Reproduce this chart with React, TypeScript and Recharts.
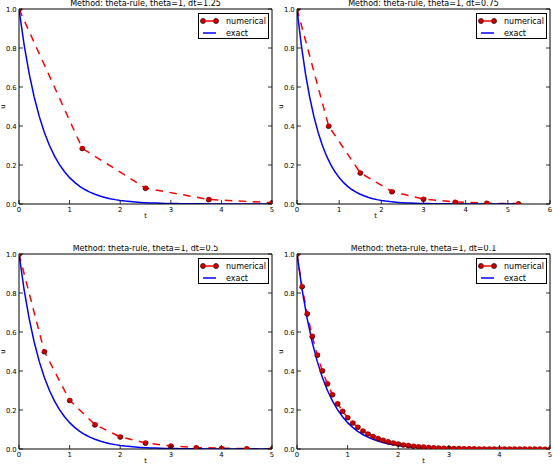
import React from 'react';
import { LineChart, Line, XAxis, YAxis, Legend, Label } from 'recharts';

// exact solution samples (t, u)
const exactT = [
  0, 0.1, 0.2, 0.3, 0.4, 0.5, 0.6, 0.7, 0.8, 0.9, 1.0, 1.1, 1.2, 1.3, 1.4, 1.5, 1.6, 1.7, 1.8, 1.9,
  2.0, 2.1, 2.2, 2.3, 2.4, 2.5, 2.6, 2.7, 2.8, 2.9, 3.0, 3.1, 3.2, 3.3, 3.4, 3.5, 3.6, 3.7, 3.8, 3.9,
  4.0, 4.1, 4.2, 4.3, 4.4, 4.5, 4.6, 4.7, 4.8, 4.9, 5.0,
];
const exactU = [
  1, 0.8187, 0.6703, 0.5488, 0.4493, 0.3679, 0.3012, 0.2466, 0.2019, 0.1653, 0.1353, 0.1108, 0.0907,
  0.0743, 0.0608, 0.0498, 0.0408, 0.0334, 0.0273, 0.0224, 0.0183, 0.015, 0.0123, 0.0101, 0.0082,
  0.0067, 0.0055, 0.0045, 0.0037, 0.003, 0.0025, 0.002, 0.0017, 0.0014, 0.0011, 0.0009, 0.0007,
  0.0006, 0.0005, 0.0004, 0.0003, 0.0003, 0.0002, 0.0002, 0.0002, 0.0001, 0.0001, 0.0001, 0.0001,
  0.0001, 0.0,
];
const exactTailT = [5.25];
const exactTailU = [0.0];

// numerical solutions
const numT125 = [0, 1.25, 2.5, 3.75, 5.0];
const numU125 = [1, 0.2857, 0.0816, 0.0233, 0.0067];

const numT075 = [0, 0.75, 1.5, 2.25, 3.0, 3.75, 4.5, 5.25];
const numU075 = [1, 0.4, 0.16, 0.064, 0.0256, 0.0102, 0.0041, 0.0016];

const numT05 = [0, 0.5, 1.0, 1.5, 2.0, 2.5, 3.0, 3.5, 4.0, 4.5, 5.0];
const numU05 = [1, 0.5, 0.25, 0.125, 0.0625, 0.0313, 0.0156, 0.0078, 0.0039, 0.002, 0.001];

const numT01 = [
  0, 0.1, 0.2, 0.3, 0.4, 0.5, 0.6, 0.7, 0.8, 0.9, 1.0, 1.1, 1.2, 1.3, 1.4, 1.5, 1.6, 1.7, 1.8, 1.9,
  2.0, 2.1, 2.2, 2.3, 2.4, 2.5, 2.6, 2.7, 2.8, 2.9, 3.0, 3.1, 3.2, 3.3, 3.4, 3.5, 3.6, 3.7, 3.8, 3.9,
  4.0, 4.1, 4.2, 4.3, 4.4, 4.5, 4.6, 4.7, 4.8, 4.9, 5.0,
];
const numU01 = [
  1, 0.8333, 0.6944, 0.5787, 0.4823, 0.4019, 0.3349, 0.2791, 0.2326, 0.1938, 0.1615, 0.1346, 0.1122,
  0.0935, 0.0779, 0.0649, 0.0541, 0.0451, 0.0376, 0.0313, 0.0261, 0.0217, 0.0181, 0.0151, 0.0126,
  0.0105, 0.0087, 0.0073, 0.0061, 0.0051, 0.0042, 0.0035, 0.0029, 0.0024, 0.002, 0.0017, 0.0014,
  0.0012, 0.001, 0.0008, 0.0007, 0.0006, 0.0005, 0.0004, 0.0003, 0.0003, 0.0002, 0.0002, 0.0002,
  0.0001, 0.0001,
];

const yTicks = [0, 0.2, 0.4, 0.6, 0.8, 1.0];
const xTicks5 = [0, 1, 2, 3, 4, 5];
const xTicks6 = [0, 1, 2, 3, 4, 5, 6];

const titles = [
  'Method: theta-rule, theta=1, dt=1.25',
  'Method: theta-rule, theta=1, dt=0.75',
  'Method: theta-rule, theta=1, dt=0.5',
  'Method: theta-rule, theta=1, dt=0.1',
];
const seriesNames = ['numerical', 'exact'];

const zip = (t: number[], u: number[]) => t.map((tt, i) => ({ t: tt, u: u[i] }));

const FONT = 'DejaVu Sans, Bitstream Vera Sans, sans-serif';
const TICK_FS = 6.8;
const TITLE_FS = 8;
const LEG_FS = 8;

// layout
const Y_AXIS_W = 19;
const X_AXIS_H = 16;
const TOP_PAD = 9;
const RIGHT_PAD = 3;
const PLOT_W = 253;
const PLOT_H = 195;
const CHART_W = Y_AXIS_W + PLOT_W + RIGHT_PAD;
const CHART_H = TOP_PAD + PLOT_H + X_AXIS_H;

const TICK_LEN = 4;
const DASH = '7.5 6.5';
const MARKER_FILL = '#cc0000';
const MARKER_EDGE = '#200000';

const BottomTick = (p: any) => (
  <g>
    <line x1={p.x} y1={p.y} x2={p.x} y2={p.y - TICK_LEN} stroke="#000" strokeWidth={0.8} />
    <text x={p.x} y={p.y + 8} textAnchor="middle" fontSize={TICK_FS} fontFamily={FONT} fill="#000">
      {String(p.payload.value)}
    </text>
  </g>
);
const TopTick = (p: any) => (
  <line x1={p.x} y1={p.y} x2={p.x} y2={p.y + TICK_LEN} stroke="#000" strokeWidth={0.8} />
);
const LeftTick = (p: any) => (
  <g>
    <line x1={p.x} y1={p.y} x2={p.x + TICK_LEN} y2={p.y} stroke="#000" strokeWidth={0.8} />
    <text x={p.x - 2.3} y={p.y + 2.5} textAnchor="end" fontSize={TICK_FS} fontFamily={FONT} fill="#000">
      {Number(p.payload.value).toFixed(1)}
    </text>
  </g>
);
const RightTick = (p: any) => (
  <line x1={p.x} y1={p.y} x2={p.x - TICK_LEN} y2={p.y} stroke="#000" strokeWidth={0.8} />
);

const LegendContent = (props: any) => {
  const payload = [...(props.payload || [])].sort(
    (a: any, b: any) => seriesNames.indexOf(a.value) - seriesNames.indexOf(b.value)
  );
  return (
    <svg width={72} height={27} style={{ display: 'block' }}>
      <rect x={0.5} y={0.5} width={70} height={25} fill="#fff" stroke="#000" strokeWidth={1} />
      {payload.map((e: any, i: number) => {
        const cy = 8 + i * 12;
        const isNum = e.value === seriesNames[0];
        return (
          <g key={i}>
            {isNum ? (
              <g>
                <line x1={8} y1={cy} x2={15} y2={cy} stroke="#ff0000" strokeWidth={1.5} />
                <circle cx={5} cy={cy} r={2.5} fill={MARKER_FILL} stroke={MARKER_EDGE} strokeWidth={0.7} />
                <circle cx={18} cy={cy} r={2.5} fill={MARKER_FILL} stroke={MARKER_EDGE} strokeWidth={0.7} />
              </g>
            ) : (
              <line x1={5} y1={cy} x2={18} y2={cy} stroke="#0000ff" strokeWidth={1.5} />
            )}
            <text x={28} y={cy + 3} fontSize={LEG_FS} fontFamily={FONT} fill="#000">
              {e.value}
            </text>
          </g>
        );
      })}
    </svg>
  );
};

type PanelProps = {
  left: number;
  top: number;
  title: string;
  num: { t: number; u: number }[];
  exact: { t: number; u: number }[];
  xMax: number;
  xTicks: number[];
  xLabelShift?: number;
};

const Panel = ({ left, top, title, num, exact, xMax, xTicks, xLabelShift = 0 }: PanelProps) => (
  <div style={{ position: 'absolute', left, top, width: CHART_W, height: CHART_H }}>
    <LineChart
      width={CHART_W}
      height={CHART_H}
      margin={{ top: TOP_PAD - 1, right: RIGHT_PAD - 1, bottom: 0, left: 0 }}
      style={{ overflow: 'visible' }}
    >
      <XAxis
        xAxisId={0}
        dataKey="t"
        type="number"
        domain={[0, xMax]}
        ticks={xTicks}
        interval={0}
        height={X_AXIS_H}
        tickSize={0}
        tickMargin={0}
        tickLine={false}
        axisLine={{ stroke: '#000', strokeWidth: 1 }}
        tick={BottomTick}
        allowDataOverflow
      >
        <Label
          content={(lp: any) => {
            const vb = lp.viewBox || { x: Y_AXIS_W, y: TOP_PAD + PLOT_H, width: PLOT_W, height: X_AXIS_H };
            return (
              <text
                x={vb.x + vb.width / 2 + xLabelShift}
                y={vb.y + 14}
                textAnchor="middle"
                fontSize={TICK_FS}
                fontFamily={FONT}
                fill="#000"
              >
                t
              </text>
            );
          }}
        />
      </XAxis>
      <XAxis
        xAxisId="top"
        orientation="top"
        type="number"
        domain={[0, xMax]}
        ticks={xTicks}
        interval={0}
        height={1}
        tickSize={0}
        tickMargin={0}
        tickLine={false}
        axisLine={{ stroke: '#000', strokeWidth: 1 }}
        tick={TopTick}
        allowDataOverflow
      >
        <Label
          content={(lp: any) => {
            const vb = lp.viewBox || { x: Y_AXIS_W, y: TOP_PAD - 1, width: PLOT_W, height: 1 };
            return (
              <text
                x={vb.x + vb.width / 2}
                y={vb.y + vb.height - 3.4}
                textAnchor="middle"
                fontSize={TITLE_FS}
                fontFamily={FONT}
                fill="#000"
              >
                {title}
              </text>
            );
          }}
        />
      </XAxis>
      <YAxis
        yAxisId={0}
        type="number"
        domain={[0, 1]}
        ticks={yTicks}
        interval={0}
        width={Y_AXIS_W}
        tickSize={0}
        tickMargin={0}
        tickLine={false}
        axisLine={{ stroke: '#000', strokeWidth: 1 }}
        tick={LeftTick}
        allowDataOverflow
      >
        <Label
          content={(lp: any) => {
            const vb = lp.viewBox || { x: 0, y: TOP_PAD, width: Y_AXIS_W, height: PLOT_H };
            const cx = vb.x + vb.width - 16.5;
            const cy = vb.y + vb.height / 2;
            return (
              <text
                x={cx}
                y={cy}
                transform={`rotate(-90 ${cx} ${cy})`}
                textAnchor="middle"
                dominantBaseline="central"
                fontSize={TICK_FS}
                fontFamily={FONT}
                fill="#000"
              >
                u
              </text>
            );
          }}
        />
      </YAxis>
      <YAxis
        yAxisId="right"
        orientation="right"
        type="number"
        domain={[0, 1]}
        ticks={yTicks}
        interval={0}
        width={1}
        tickSize={0}
        tickMargin={0}
        tickLine={false}
        axisLine={{ stroke: '#000', strokeWidth: 1 }}
        tick={RightTick}
        allowDataOverflow
      />
      <Line
        data={num}
        dataKey="u"
        name={seriesNames[0]}
        type="linear"
        stroke="#ff0000"
        strokeWidth={1.5}
        strokeDasharray={DASH}
        dot={{ r: 2.6, fill: MARKER_FILL, stroke: MARKER_EDGE, strokeWidth: 0.7 }}
        activeDot={false}
        isAnimationActive={false}
      />
      <Line
        data={exact}
        dataKey="u"
        name={seriesNames[1]}
        type="linear"
        stroke="#0000ff"
        strokeWidth={1.5}
        dot={false}
        activeDot={false}
        isAnimationActive={false}
      />
      <Legend
        layout="horizontal"
        verticalAlign="middle"
        align="center"
        content={LegendContent}
        wrapperStyle={{
          position: 'absolute',
          top: TOP_PAD + 3.5,
          left: Y_AXIS_W + PLOT_W - 74,
          width: 72,
          height: 27,
          margin: 0,
          padding: 0,
        }}
      />
    </LineChart>
  </div>
);

export default function App() {
  const exactFull = zip(exactT, exactU);
  const exactLong = zip(exactT.concat(exactTailT), exactU.concat(exactTailU));
  return (
    <div
      style={{
        position: 'absolute',
        left: 0,
        top: 0,
        width: 553,
        height: 465,
        background: '#fff',
        overflow: 'hidden',
        fontFamily: FONT,
      }}
    >
      <Panel left={0} top={0} title={titles[0]} num={zip(numT125, numU125)} exact={exactFull} xMax={5} xTicks={xTicks5} />
      <Panel left={278} top={0} title={titles[1]} num={zip(numT075, numU075)} exact={exactLong} xMax={6} xTicks={xTicks6} xLabelShift={-48} />
      <Panel left={0} top={245} title={titles[2]} num={zip(numT05, numU05)} exact={exactFull} xMax={5} xTicks={xTicks5} />
      <Panel left={278} top={245} title={titles[3]} num={zip(numT01, numU01)} exact={exactFull} xMax={5} xTicks={xTicks5} />
    </div>
  );
}
